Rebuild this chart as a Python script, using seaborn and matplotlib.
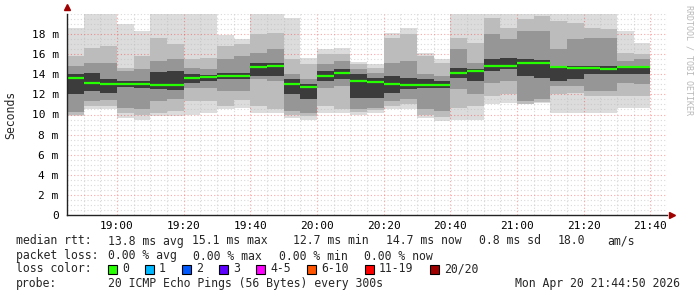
import numpy as np
import pandas as pd
import matplotlib
matplotlib.use("Agg")
import matplotlib.pyplot as plt
import matplotlib.dates as mdates
from matplotlib.patches import Rectangle
import seaborn as sns

# ---------------- data (ms) ----------------
median_ms = [13.59, 13.15, 13.02, 13.02, 13.02, 12.92, 12.92, 13.65, 13.75, 13.85, 13.85, 14.74,
             14.84, 13.02, 12.75, 13.85, 14.09, 13.32, 13.22, 13.02, 12.92, 12.92, 12.92, 14.12,
             14.31, 14.78, 14.84, 15.11, 15.11, 14.74, 14.64, 14.58, 14.54, 14.71, 14.71]
max_ms = [18.6, 20.5, 20.5, 19.0, 18.3, 20.5, 20.5, 20.5, 20.5, 17.9, 17.5, 20.5,
          20.5, 19.6, 15.6, 16.5, 16.6, 15.2, 15.0, 18.1, 18.6, 16.1, 15.5, 20.5,
          20.5, 20.5, 20.5, 20.5, 20.5, 20.5, 20.5, 20.5, 20.5, 18.3, 17.1]
hi2_ms = [15.8, 16.6, 16.8, 14.6, 15.8, 17.6, 17.0, 15.5, 15.6, 16.8, 17.0, 18.0,
          18.1, 15.5, 15.0, 16.0, 16.0, 15.0, 14.6, 17.6, 18.0, 15.8, 15.1, 17.6,
          17.1, 19.6, 18.6, 19.5, 19.8, 19.3, 19.1, 18.6, 18.5, 16.1, 16.0]
hi3_ms = [14.8, 15.1, 15.1, 14.3, 14.5, 15.3, 15.5, 14.6, 14.5, 15.5, 15.8, 16.1,
          16.5, 14.0, 13.5, 15.0, 15.3, 14.5, 14.1, 15.1, 15.3, 14.0, 13.8, 16.5,
          15.1, 18.0, 17.5, 18.3, 18.3, 16.5, 17.5, 17.6, 17.6, 15.3, 15.5]
hi4_ms = [14.0, 14.1, 13.5, 13.3, 13.3, 14.2, 14.3, 14.0, 13.9, 14.1, 14.1, 15.1,
          15.1, 13.5, 13.0, 14.3, 14.5, 14.0, 13.6, 13.8, 13.6, 13.5, 13.3, 14.6,
          14.5, 15.5, 15.6, 15.5, 15.4, 14.8, 14.8, 14.8, 14.8, 14.8, 14.8]
lo4_ms = [12.0, 12.3, 12.1, 12.7, 12.6, 12.5, 12.4, 13.1, 13.3, 13.5, 13.5, 13.8,
          13.8, 12.0, 11.5, 13.3, 13.5, 11.6, 11.6, 12.1, 12.5, 12.6, 12.6, 13.6,
          13.3, 14.3, 14.5, 13.8, 13.6, 13.3, 13.5, 14.0, 14.0, 14.0, 14.0]
lo3_ms = [10.2, 11.3, 11.4, 10.6, 10.5, 11.3, 11.5, 12.6, 12.6, 12.3, 12.3, 13.5,
          13.3, 10.3, 10.1, 12.6, 12.8, 10.5, 10.6, 11.3, 11.5, 10.5, 10.3, 12.5,
          12.0, 13.1, 13.3, 11.3, 11.5, 12.8, 12.8, 12.3, 12.3, 13.1, 13.0]
lo2_ms = [10.0, 10.8, 10.8, 10.1, 10.0, 10.1, 10.3, 11.3, 11.3, 10.8, 11.4, 10.8,
          10.5, 10.0, 9.9, 10.8, 10.5, 10.2, 10.4, 10.8, 11.0, 10.0, 9.8, 10.6,
          10.8, 11.8, 12.0, 11.0, 11.2, 12.0, 12.1, 11.8, 11.8, 11.8, 11.8]
min_ms = [9.85, 10.5, 10.5, 9.7, 9.5, 9.9, 9.9, 10.0, 10.1, 10.5, 10.6, 10.1,
          10.1, 9.7, 9.5, 10.1, 10.1, 10.0, 10.1, 10.5, 10.5, 9.7, 9.4, 9.5,
          9.5, 11.0, 11.1, 11.0, 11.1, 10.1, 10.1, 10.1, 10.1, 10.6, 10.6]

y_ticks = [0, 2, 4, 6, 8, 10, 12, 14, 16, 18]
y_labels = ["0", "2 m", "4 m", "6 m", "8 m", "10 m", "12 m", "14 m", "16 m", "18 m"]

legend_rtt = [("median rtt:", 16), ("13.8 ms avg", 108), ("15.1 ms max", 192),
              ("12.7 ms min", 293), ("14.7 ms now", 386), ("0.8 ms sd", 479),
              ("18.0", 558), ("am/s", 607)]
legend_loss = [("packet loss:", 16), ("0.00 % avg", 108), ("0.00 % max", 193),
               ("0.00 % min", 279), ("0.00 % now", 364)]
loss_labels = ["0", "1", "2", "3", "4-5", "6-10", "11-19", "20/20"]
loss_colors = ["#26ff00", "#00b8ff", "#0059ff", "#5e00ff", "#ff00ff", "#ff5500", "#ff0000", "#a10000"]
loss_x = [108, 145, 182, 219, 256, 307, 365, 430]

# ---------------- figure ----------------
sns.set_theme(style="white")
plt.rcParams["font.family"] = ["DejaVu Sans Mono", "DejaVu Sans"]

W, H = 697, 297
fig = plt.figure(figsize=(W / 100, H / 100), dpi=100)
fig.patch.set_facecolor("white")
ax = fig.add_axes([67 / W, (H - 215) / H, 600 / W, 201 / H])
ax.set_facecolor("white")

times = pd.date_range("2026-04-20 18:45", periods=len(median_ms), freq="5min")
df = pd.DataFrame({"time": times, "median": median_ms,
                   "lo1": min_ms, "hi1": max_ms, "lo2": lo2_ms, "hi2": hi2_ms,
                   "lo3": lo3_ms, "hi3": hi3_ms, "lo4": lo4_ms, "hi4": hi4_ms})
xnum = mdates.date2num(df["time"])
width = 5 / 1440.0

band_colors = ["#dcdcdc", "#bcbcbc", "#969696", "#3c3c3c"]
for k, col in enumerate(band_colors, start=1):
    lo = df[f"lo{k}"].to_numpy()
    hi = df[f"hi{k}"].to_numpy()
    ax.bar(xnum, hi - lo, bottom=lo, width=width, align="edge", color=col,
           linewidth=0, zorder=1 + k)

ax.hlines(df["median"], xnum, xnum + width, colors="#26ff00", linewidth=1.6, zorder=7)

x0 = mdates.date2num(pd.Timestamp("2026-04-20 18:45"))
x1 = mdates.date2num(pd.Timestamp("2026-04-20 21:45"))
ax.set_xlim(x0, x1)
ax.set_ylim(0, 20)

ax.xaxis.set_major_locator(mdates.MinuteLocator(byminute=[0, 20, 40]))
ax.xaxis.set_minor_locator(mdates.MinuteLocator(byminute=range(0, 60, 5)))
ax.xaxis.set_major_formatter(mdates.DateFormatter("%H:%M"))
ax.set_yticks(y_ticks)
ax.set_yticklabels(y_labels)
ax.set_yticks(np.arange(0, 20.01, 0.5), minor=True)

ax.grid(False)
ax.set_axisbelow(False)
ax.grid(which="minor", color="#bbbbbb", alpha=0.55, linestyle=(0, (1, 2)), linewidth=0.8, zorder=8)
ax.grid(which="major", color="#ff0000", alpha=0.35, linestyle=(0, (1, 2)), linewidth=0.8, zorder=9)

ax.tick_params(axis="both", which="both", length=0, labelsize=8, colors="#000000")
ax.tick_params(axis="y", pad=6)
ax.tick_params(axis="x", pad=4)
for s in ["top", "right"]:
    ax.spines[s].set_visible(False)
for s in ["left", "bottom"]:
    ax.spines[s].set_color("#222222")
    ax.spines[s].set_linewidth(1.0)
    ax.spines[s].set_zorder(10)

# axis arrows
ax.plot([0], [1.035], marker="^", color="#a00000", markersize=4.5, transform=ax.transAxes,
        clip_on=False, zorder=11)
ax.plot([1.008], [0], marker=">", color="#a00000", markersize=4.5, transform=ax.transAxes,
        clip_on=False, zorder=11)

fig.text(11 / W, 1 - 115 / H, "Seconds", rotation=90, ha="center", va="center", fontsize=8.3)
fig.text(689 / W, 1 - 5 / H, "RRDTOOL / TOBI OETIKER", rotation=270, ha="center", va="top",
         fontsize=6, color="#b8b8b8")

FS = 8.3


def ftext(xp, yp, s, **kw):
    fig.text(xp / W, 1 - yp / H, s, va="center", fontsize=FS, **kw)


for s, xp in legend_rtt:
    ftext(xp, 241, s)
for s, xp in legend_loss:
    ftext(xp, 256, s)
ftext(16, 269, "loss color:")
for lab, col, xp in zip(loss_labels, loss_colors, loss_x):
    fig.patches.append(Rectangle((xp / W, 1 - 274 / H), 9 / W, 9 / H, transform=fig.transFigure,
                                 facecolor=col, edgecolor="black", linewidth=0.8))
    ftext(xp + 14, 269, lab)
ftext(16, 284, "probe:")
ftext(108, 284, "20 ICMP Echo Pings (56 Bytes) every 300s")
ftext(680, 284, "Mon Apr 20 21:44:50 2026", ha="right")

fig.savefig("out.png", dpi=100, facecolor="white")
